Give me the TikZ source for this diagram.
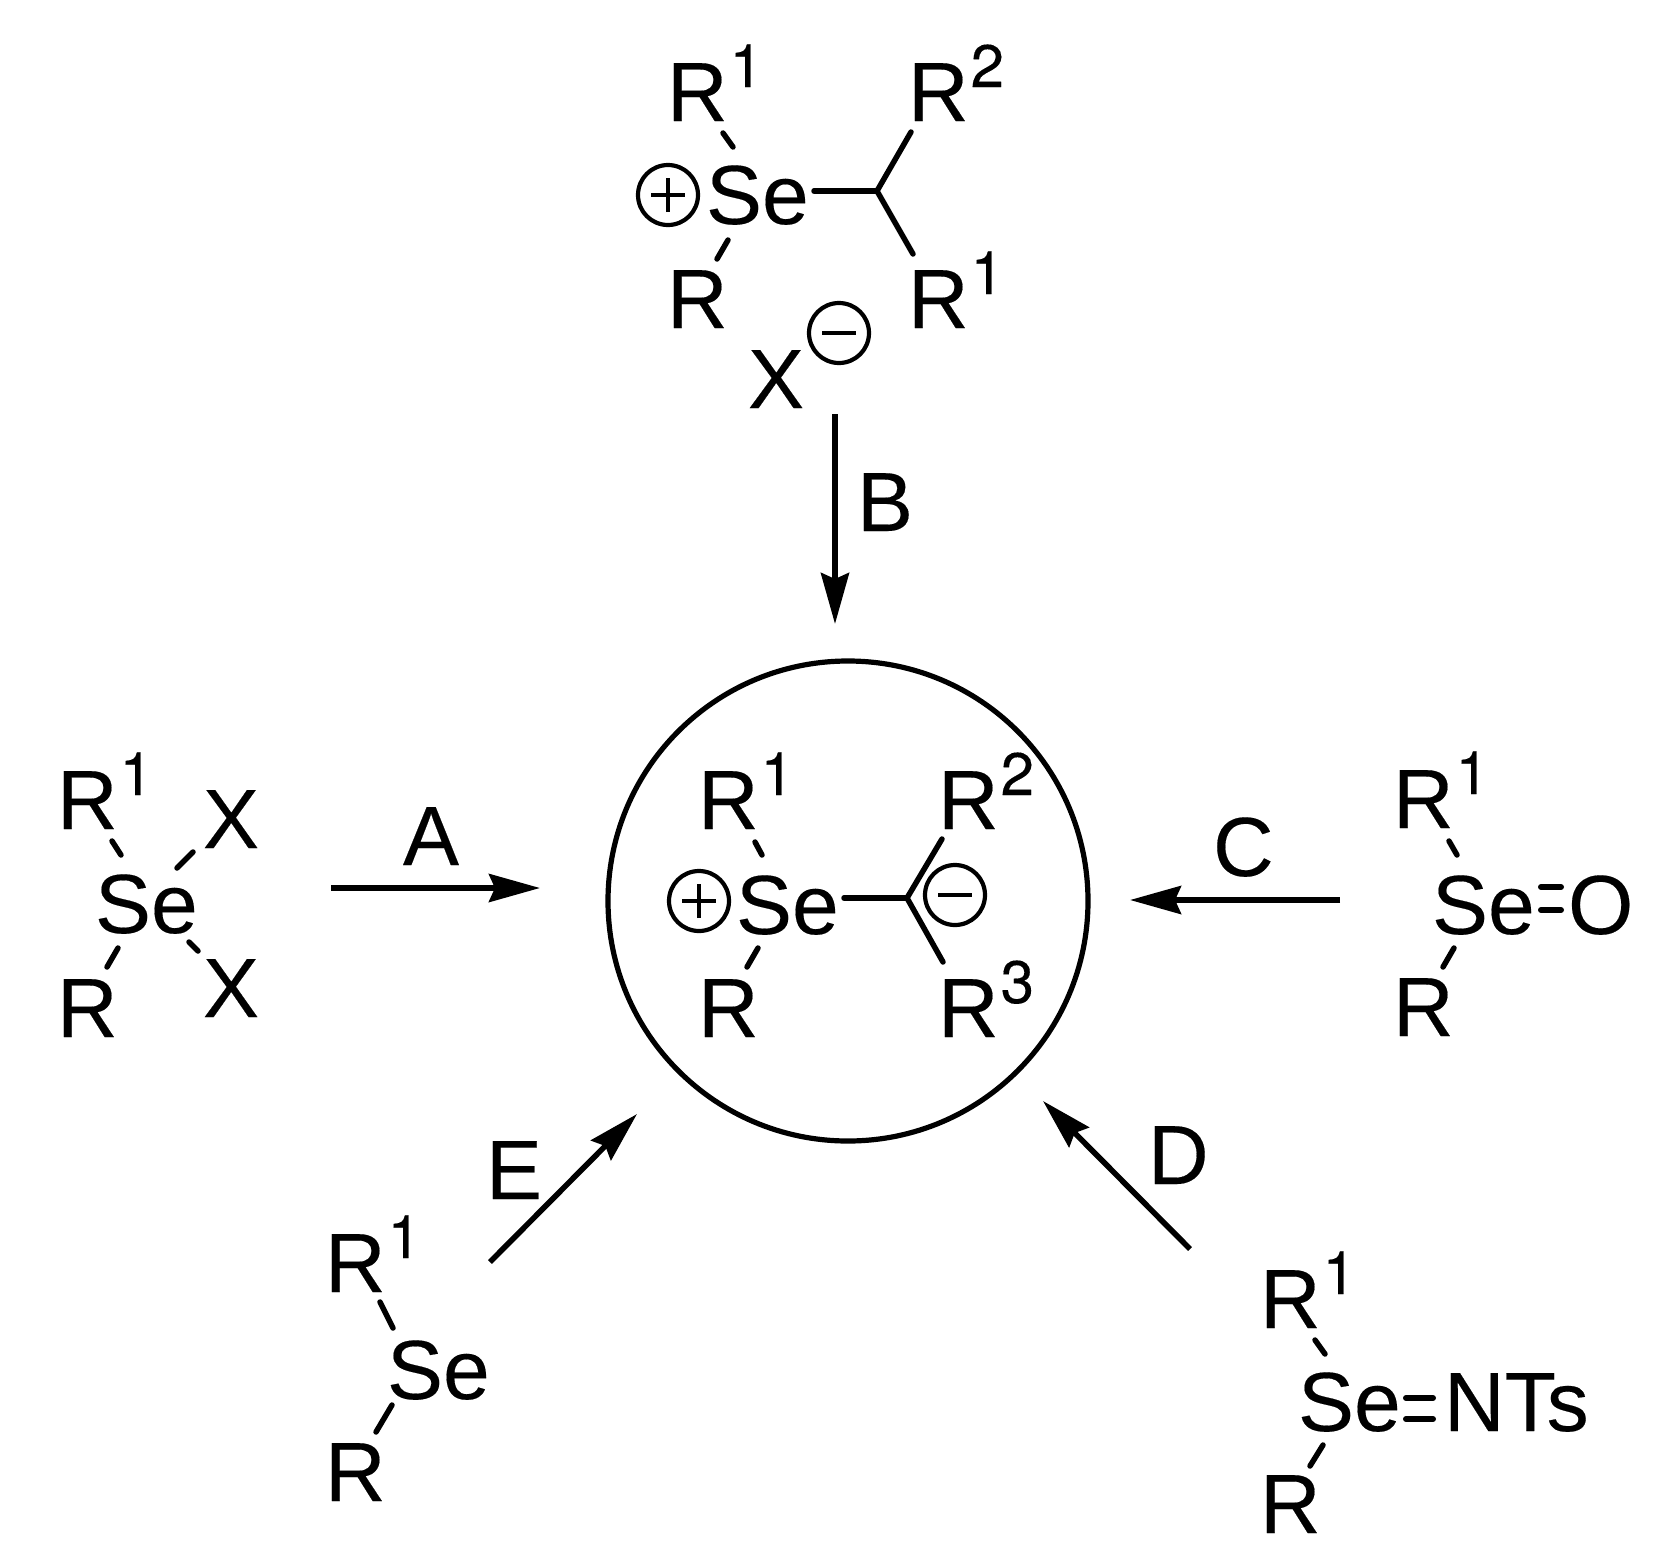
\documentclass[tikz,border=0pt]{standalone}
\usepackage{fontspec}
\setmainfont[FakeBold=0.2]{Liberation Sans}
\newfontfamily\digitfont[FakeBold=0.2]{TeX Gyre Heros}
\usetikzlibrary{arrows.meta}
\newcommand{\upsc}[1]{\kern2pt\raisebox{34pt}{\digitfont\fontsize{60}{60}\selectfont #1}}
\newcommand{\pluscharge}[2]{%
  \node[chg] (#1) at #2 {};
  \draw[chgbar] ([xshift=-17pt]#1.center) -- ([xshift=17pt]#1.center);
  \draw[chgbar] ([yshift=-17pt]#1.center) -- ([yshift=17pt]#1.center);}
\newcommand{\minuscharge}[2]{%
  \node[chg] (#1) at #2 {};
  \draw[chgbar] ([xshift=-17pt]#1.center) -- ([xshift=17pt]#1.center);}
\tikzset{
  atom/.style={anchor=base west,inner sep=0pt,outer sep=0pt,font=\fontsize{84}{92}\selectfont},
  bond/.style={line width=5.5pt,line cap=round,line join=round},
  dbl/.style={line width=6pt,line cap=round},
  chg/.style={circle,draw,line width=4.2pt,minimum size=60pt,inner sep=0pt},
  chgbar/.style={line width=4.6pt},
  rxn/.style={line width=5.6pt,-{Stealth[length=51pt,width=28pt,inset=6pt]}},
  ring/.style={circle,draw,line width=5.2pt,minimum size=480pt,inner sep=0pt}
}
\begin{document}
\begin{tikzpicture}[x=1pt,y=-1pt]
\useasboundingbox (0,0) rectangle (1663,1561);
% top molecule
\node[atom] (tR1) at (667,121) {R\upsc{1}};
\node[atom] (tR) at (667,328) {R};
\node[atom] (tSe) at (706,224) {Se};
\node[atom] (tR2) at (908,121) {R\upsc{2}};
\node[atom] (tRb) at (908,328) {R\upsc{1}};
\node[atom] (tX) at (748,408) {X};
\pluscharge{tP}{(668,195)}
\minuscharge{tM}{(839,333)}
\coordinate (tC) at (877,191);
\draw[bond] (723,133) coordinate (a1) -- (733,147) coordinate (a2);
\draw[bond] (728,240) coordinate (a3) -- (717,259) coordinate (a4);
\draw[bond] (814,191) coordinate (a5) -- (tC);
\draw[bond] (911,132) coordinate (a6) -- (tC) -- (913,254) coordinate (a7);
% centre
\node[ring] (ring) at (848,901) {};
\node[atom] (cR1) at (698,829) {R\upsc{1}};
\node[atom] (cR) at (698,1037) {R};
\node[atom] (cSe) at (736,934) {Se};
\node[atom] (cR2) at (938,829) {R\upsc{2}};
\node[atom] (cR3) at (938,1037) {R\upsc{3}};
\pluscharge{cP}{(699,901)}
\minuscharge{cM}{(955,895)}
\coordinate (cC) at (907,898);
\draw[bond] (755,842) coordinate (b1) -- (762,855) coordinate (b2);
\draw[bond] (758,948) coordinate (b3) -- (747,967) coordinate (b4);
\draw[bond] (844,898) coordinate (b5) -- (cC);
\draw[bond] (942,839) coordinate (b6) -- (cC) -- (943,962) coordinate (b7);
% left
\node[atom] (lR1) at (57,829) {R\upsc{1}};
\node[atom] (lR) at (57,1037) {R};
\node[atom] (lSe) at (95,933) {Se};
\node[atom] (lX1) at (203,848) {X};
\node[atom] (lX2) at (203,1017) {X};
\draw[bond] (112,841) coordinate (c1) -- (121,855) coordinate (c2);
\draw[bond] (118,948) coordinate (c3) -- (107,967) coordinate (c4);
\draw[bond] (177,868) coordinate (c5) -- (193,852) coordinate (c6);
\draw[bond] (189,942) coordinate (c7) -- (198,951) coordinate (c8);
% right
\node[atom] (rR1) at (1393,828) {R\upsc{1}};
\node[atom] (rR) at (1393,1036) {R};
\node[atom] (rSe) at (1432,934) {Se};
\node[atom] (rO) at (1568,934) {O};
\draw[bond] (1449,841) coordinate (d1) -- (1457,855) coordinate (d2);
\draw[bond] (1454,948) coordinate (d3) -- (1443,967) coordinate (d4);
\draw[dbl] (1541,887) coordinate (d5) -- (1561,887) coordinate (d6);
\draw[dbl] (1541,910) coordinate (d7) -- (1561,910) coordinate (d8);
% lower left
\node[atom] (eR1) at (325,1292) {R\upsc{1}};
\node[atom] (eR) at (325,1501) {R};
\node[atom] (eSe) at (387,1399) {Se};
\draw[bond] (380,1302) coordinate (e1) -- (393,1328) coordinate (e2);
\draw[bond] (392,1405) coordinate (e3) -- (376,1432) coordinate (e4);
% lower right
\node[atom] (fR1) at (1260,1328) {R\upsc{1}};
\node[atom] (fR) at (1260,1533) {R};
\node[atom] (fSe) at (1298,1431) {Se};
\node[atom] (fN) at (1444,1431) {NTs};
\draw[bond] (1315,1340) coordinate (f1) -- (1325,1354) coordinate (f2);
\draw[bond] (1323,1445) coordinate (f3) -- (1310,1466) coordinate (f4);
\draw[dbl] (1406,1398) coordinate (f5) -- (1433,1398) coordinate (f6);
\draw[dbl] (1406,1419) coordinate (f7) -- (1433,1419) coordinate (f8);
% arrows
\coordinate (aS) at (331,888); \coordinate (aT) at (540,888);
\coordinate (bS) at (835,414); \coordinate (bT) at (835,624);
\coordinate (cS) at (1340,900); \coordinate (cT) at (1130,900);
\coordinate (dS) at (1190,1249); \coordinate (dT) at (1043,1101);
\coordinate (eS) at (490,1262); \coordinate (eT) at (637,1114);
\draw[rxn] (aS) -- (aT);
\draw[rxn] (bS) -- (bT);
\draw[rxn] (cS) -- (cT);
\draw[rxn] (dS) -- (dT);
\draw[rxn] (eS) -- (eT);
\node[atom] (lA) at (403,865) {A};
\node[atom] (lB) at (857,531) {B};
\node[atom] (lC) at (1213,876) {C};
\node[atom] (lD) at (1148,1184) {D};
\node[atom] (lE) at (486,1199) {E};
\end{tikzpicture}
\end{document}
